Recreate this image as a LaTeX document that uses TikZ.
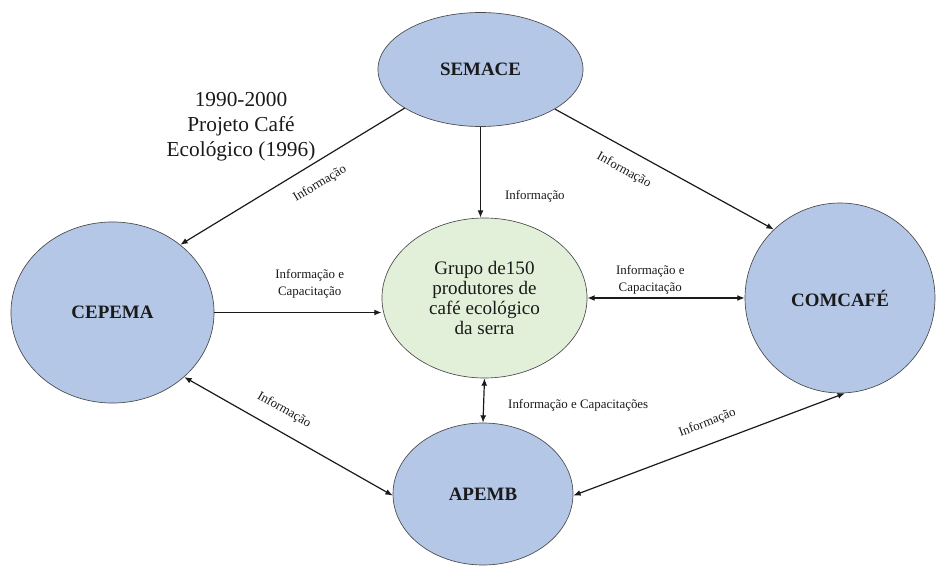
\documentclass[tikz,border=0pt]{standalone}
\usepackage{fontspec}
\setmainfont{Liberation Serif}
\usetikzlibrary{
	arrows.meta,
	positioning,
	shapes.geometric
}
\definecolor{ActorBlue}{HTML}{B4C7E7}
\definecolor{GroupGreen}{HTML}{E2F0D9}
\definecolor{RimGray}{HTML}{4A4A4A}
\definecolor{LinkInk}{HTML}{1A1A1A}

\begin{document}
\begin{tikzpicture}[
 x=0.75pt,y=-0.75pt,
 >={Latex[length=5.5pt,width=4.4pt]},
 actor/.style={ellipse,draw=RimGray,line width=.5pt,fill=ActorBlue,inner sep=0pt,
   text=LinkInk,font=\fontsize{14.2}{16}\selectfont\bfseries},
 group/.style={ellipse,draw=RimGray,line width=.5pt,fill=GroupGreen,inner sep=0pt,
   align=center,text=LinkInk,font=\fontsize{14.3}{15.2}\selectfont,
   minimum width=153.8pt,minimum height=120pt},
 tag/.style={inner sep=1pt,text=LinkInk,font=\fontsize{9.7}{12.75}\selectfont},
 link/.style={draw=LinkInk,line width=.9pt}
]
 \useasboundingbox (0,0) rectangle (936,570);
 \node[actor,minimum width=153.8pt,minimum height=85.5pt] (semace) at (480.5,69.5) {SEMACE};
 \node[actor,minimum width=152.3pt,minimum height=135.8pt] (cepema) at (112.5,312.5) {CEPEMA};
 \node[actor,minimum width=142.5pt,minimum height=142.5pt] (comcafe) at (840,298) {COMCAFÉ};
 \node[actor,minimum width=135pt,minimum height=106.5pt] (apemb) at (483,494) {APEMB};
 \node[group] (grupo) at (484.5,298) {Grupo de150\\produtores de\\café ecológico\\da serra};
 \node[align=center,text=LinkInk,font=\fontsize{16}{18.8}\selectfont] (periodo) at (241,127)
   {1990-2000\\Projeto Café\\Ecológico (1996)};
 \draw[link,<-] (cepema.45) -- node[tag,pos=.575,sloped,below=9.5pt] {Informação} (semace.207);
 \draw[link,->] (semace.south) -- node[tag,pos=.77,right=17pt] {Informação} (semace.south |- grupo.north);
 \draw[link,->] (semace.332) -- node[tag,pos=.36,sloped,below=9.5pt] {Informação} (comcafe.134);
 \draw[link,->] (cepema.east) -- node[tag,pos=.57,above=9pt,align=center]
   {Informação e\\Capacitação} (cepema.east -| grupo.west);
 \draw[link,<->] (grupo.east) -- node[tag,pos=.4,above=1pt,align=center]
   {Informação e\\Capacitação} (comcafe.west);
 \draw[link,<->] (grupo.south) -- node[tag,pos=.6,right=17pt] {Informação e Capacitações} (apemb.north);
 \draw[link,<->] (cepema.318) -- node[tag,pos=.43,sloped,above=9.5pt] {Informação} (apemb.181);
 \draw[link,<->] (apemb.359) -- node[tag,pos=.52,sloped,above=9.5pt] {Informação} (comcafe.273);
\end{tikzpicture}
\end{document}
